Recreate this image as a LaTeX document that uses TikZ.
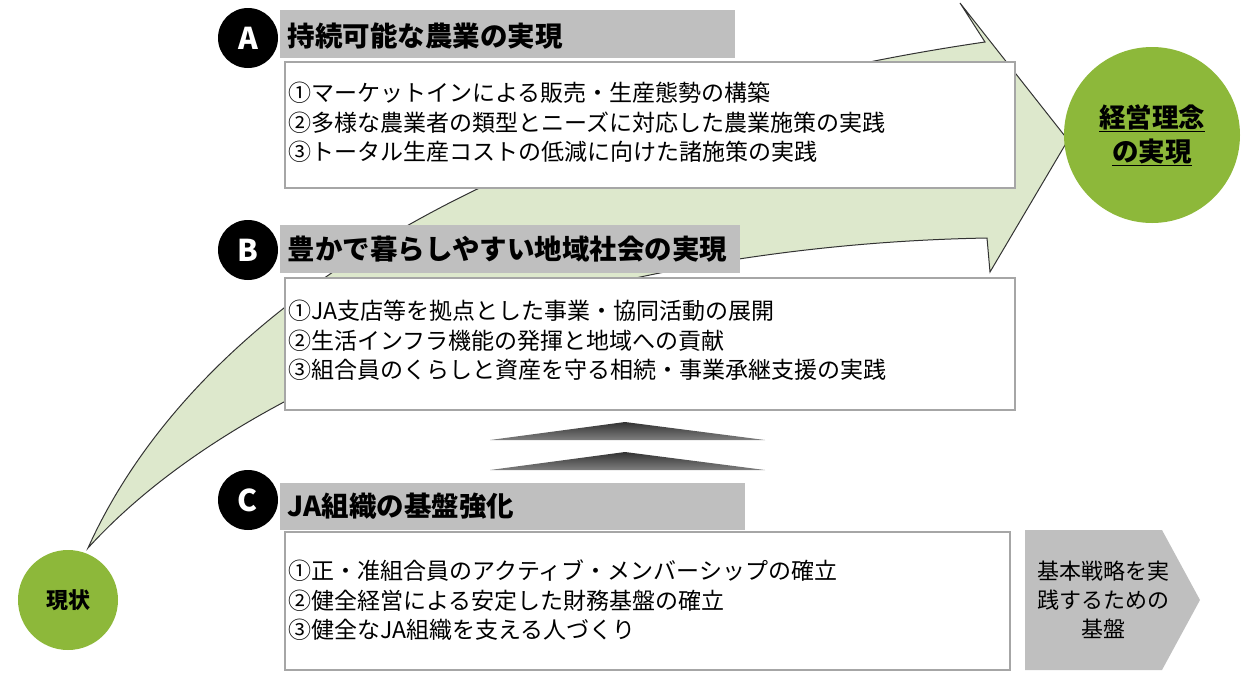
\documentclass[tikz,border=0pt]{standalone}
\usepackage{fontspec}
\setmainfont{Noto Sans CJK JP}
\begin{document}
\begin{tikzpicture}[x=1pt,y=-1pt,
  hdr/.style={fill=gray!50,draw=none},
  wbox/.style={fill=white,draw=gray!70,line width=1.2pt},
  letter/.style={circle,fill=black,text=white,minimum size=60pt,inner sep=0pt,font=\bfseries\fontsize{30}{30}\selectfont},
  htext/.style={anchor=west,font=\bfseries\fontsize{27.5}{30}\selectfont},
  ltext/.style={anchor=north west,align=left,inner sep=0pt,font=\fontsize{23}{29.5}\selectfont}]
\definecolor{lg}{HTML}{DDE8CC}
\definecolor{gc}{HTML}{8DB83A}
\useasboundingbox (0,0) rectangle (1251,673);
% big arrow
\draw[fill=lg,draw=black!80,line width=1pt] (88,548) .. controls (200,300) and (520,110) .. (985,42)
  -- (960,3) -- (1068,140) -- (990,272) -- (987,238)
  .. controls (600,245) and (250,370) .. (88,548) -- cycle;
% circles
\node[circle,fill=gc,minimum size=176pt,inner sep=0pt,align=center,font=\bfseries\fontsize{26.5}{34}\selectfont] (goal) at (1152,135) {\underline{経営理念}\\\underline{の実現}};
\node[circle,fill=gc,minimum size=100pt,inner sep=0pt,font=\bfseries\fontsize{22}{24}\selectfont] (now) at (68,600) {現状};
% A
\fill[hdr] (280,10) rectangle (735,58);
\draw[wbox] (285,62) rectangle (1015,188);
\node[letter] (la) at (248,38) {A};
\node[htext] (ha) at (284,36) {持続可能な農業の実現};
\node[ltext] (ta) at (288,82) {①マーケットインによる販売・生産態勢の構築\\②多様な農業者の類型とニーズに対応した農業施策の実践\\③トータル生産コストの低減に向けた諸施策の実践};
% B
\fill[hdr] (280,225) rectangle (740,273);
\draw[wbox] (285,278) rectangle (1015,410);
\node[letter] (lb) at (248,250) {B};
\node[htext] (hb) at (284,249) {豊かで暮らしやすい地域社会の実現};
\node[ltext] (tb) at (288,300) {①JA支店等を拠点とした事業・協同活動の展開\\②生活インフラ機能の発揮と地域への貢献\\③組合員のくらしと資産を守る相続・事業承継支援の実践};
% chevrons
\shade[top color=black!80,bottom color=black!50] (490,440) -- (625,422) -- (765,440) -- cycle;
\shade[top color=black!80,bottom color=black!50] (490,470) -- (625,452) -- (765,470) -- cycle;
% C
\fill[hdr] (280,483) rectangle (745,530);
\draw[wbox] (285,532) rectangle (1010,670);
\node[letter] (lc) at (248,500) {C};
\node[htext] (hc) at (284,506) {JA組織の基盤強化};
\node[ltext] (tc) at (288,560) {①正・准組合員のアクティブ・メンバーシップの確立\\②健全経営による安定した財務基盤の確立\\③健全なJA組織を支える人づくり};
% side pentagon
\fill[gray!50] (1025,530) -- (1162,530) -- (1200,600) -- (1162,670) -- (1025,670) -- cycle;
\node[align=center,font=\fontsize{22}{29}\selectfont] (base) at (1103,600) {基本戦略を実\\践するための\\基盤};
\end{tikzpicture}
\end{document}
